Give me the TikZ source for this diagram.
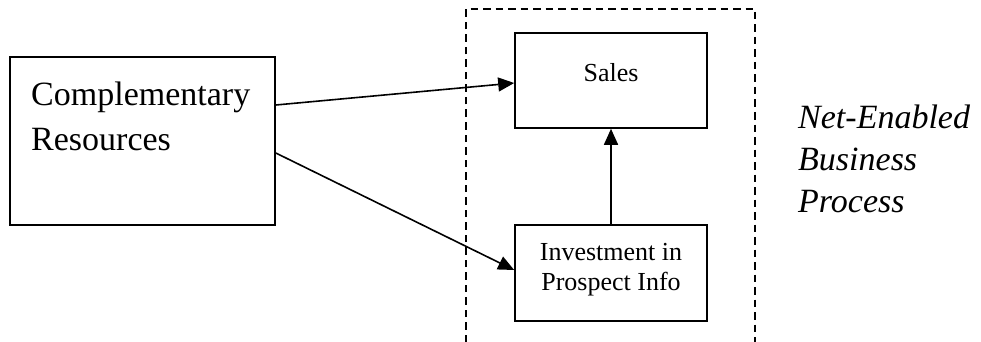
\documentclass[tikz,border=0pt]{standalone}
\usepackage{fontspec}
\setmainfont{Liberation Serif}
\usetikzlibrary{arrows.meta}

\begin{document}
\begin{tikzpicture}[%
      x=1pt, y=-1pt,
      box/.style={draw, line width=1.6pt, inner sep=0pt},
      link/.style={line width=1.6pt, -{Triangle[length=16pt,width=14pt]}},
      bigtext/.style={font=\fontsize{34}{45}\selectfont, align=left, inner sep=0pt},
      smalltext/.style={font=\fontsize{26}{30}\selectfont, align=center, inner sep=0pt},
      ]
      \useasboundingbox (0,0) rectangle (981,342);

      \draw [line width=1.6pt, dash pattern=on 7.5pt off 5pt] (466,342) -- (466,9) -- (755,9) -- (755,342);

      \node [box, minimum width=265pt, minimum height=168pt] (comp) at (142.5,141) {};
      \node [box, minimum width=192pt, minimum height=95pt] (sales) at (611,80.5) {};
      \node [box, minimum width=192pt, minimum height=96pt] (invest) at (611,273) {};

      % base anchor sits on the last line
      \node [bigtext, anchor=base west] (compText) at (31,150) {Complementary\\Resources};
      \node [smalltext, anchor=base] (salesText) at (611,82) {Sales};
      \node [smalltext, anchor=base] (investText) at (611,290) {Investment in\\Prospect Info};
      \node [bigtext, anchor=base west, font=\fontsize{34}{42}\selectfont\itshape] (netText) at (798,212) {Net-Enabled\\Business\\Process};

      \draw [link] ([yshift=36pt]comp.east) -- ([yshift=-2.5pt]sales.west);
      \draw [link] ([yshift=-12pt]comp.east) -- ([yshift=3pt]invest.west);
      \draw [link] (invest.north) -- (sales.south);
\end{tikzpicture}
\end{document}
